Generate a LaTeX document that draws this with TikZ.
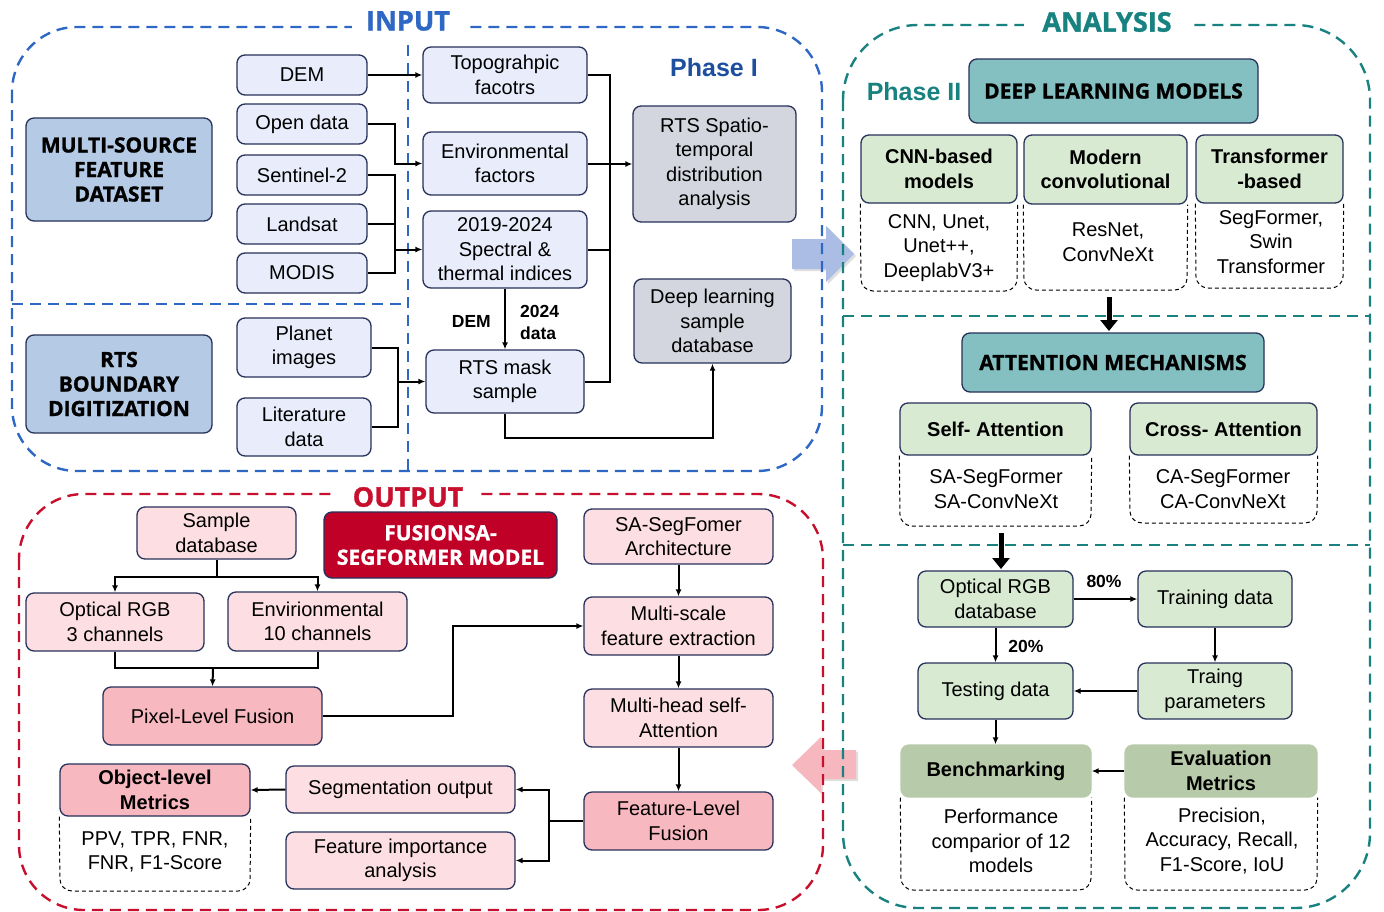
\documentclass[tikz,border=0pt]{standalone}
\usepackage{fontspec}
\setmainfont{Liberation Sans}
\newfontfamily\hdfont{Open Sans}[BoldFeatures={FakeBold=1.2}]
\usetikzlibrary{arrows.meta,shadows}
\definecolor{navy}{HTML}{27315A}
\definecolor{inblue}{HTML}{2E68C4}
\definecolor{phblue}{HTML}{1E4E9E}
\definecolor{tealc}{HTML}{17827F}
\definecolor{redc}{HTML}{C8102E}
\definecolor{infill}{HTML}{E9EDFB}
\definecolor{msfill}{HTML}{B5CBE5}
\definecolor{grfill}{HTML}{D3D6DE}
\definecolor{tlfill}{HTML}{84BFC1}
\definecolor{gnfill}{HTML}{D8EAD1}
\definecolor{sgfill}{HTML}{B7CAA9}
\definecolor{pkfill}{HTML}{FDDFE3}
\definecolor{pdfill}{HTML}{F8B8C0}
\definecolor{drfill}{HTML}{C00027}
\definecolor{arblue}{HTML}{ABBDE4}
\definecolor{arpink}{HTML}{F7B7BE}
\newcommand\bodyf{\fontsize{20}{24.5}\selectfont}
\newcommand\hdf{\hdfont\bfseries\fontsize{21}{24.5}\selectfont}
\newcommand\bx[7]{\node[#1,minimum width={#4-#3},minimum height={#6-#5}] (#2) at ({(#3+#4)/2},{(#5+#6)/2}) {#7};}
\begin{document}
\begin{tikzpicture}[x=1pt,y=-1pt,
  box/.style={rounded corners=8pt, draw=navy, line width=1.3pt, align=center, inner sep=0pt, font=\bodyf},
  inb/.style={box, fill=infill},
  msb/.style={box, fill=msfill, font=\hdf},
  grb/.style={box, fill=grfill},
  tlb/.style={box, fill=tlfill, font=\hdf},
  gnb/.style={box, fill=gnfill},
  gnh/.style={box, fill=gnfill, font=\bfseries\bodyf},
  sgb/.style={box, fill=sgfill, draw=sgfill, font=\bfseries\bodyf},
  pkb/.style={box, fill=pkfill},
  pdb/.style={box, fill=pdfill},
  pdh/.style={box, fill=pdfill, font=\bfseries\bodyf},
  fus/.style={box, fill=drfill, text=white, font=\hdf},
  txt/.style={align=center, inner sep=0pt, font=\bodyf},
  lbl/.style={inner sep=0pt, align=left, font=\bfseries\fontsize{17.5}{22}\selectfont},
  line/.style={line width=2pt},
  conn/.style={line width=2pt, -{Latex[length=7pt,width=6pt]}},
  thickarr/.style={line width=5pt, -{Triangle[length=11pt,width=17pt]}},
  dsh/.style={draw=black, dash pattern=on 4pt off 3pt, line width=1pt, rounded corners=12pt},
  regline/.style={line width=2.4pt, dash pattern=on 11pt off 7pt},
  ttl/.style={fill=white, inner xsep=18pt, inner ysep=2pt, font=\hdfont\bfseries\fontsize{27}{30}\selectfont},
  phase/.style={inner sep=0pt, font=\bfseries\fontsize{25}{28}\selectfont}
]
\useasboundingbox (0,0) rectangle (1384,911);
\fill[white] (0,0) rectangle (1384,911);

% block arrows
\fill[arblue, drop shadow={opacity=0.25, shadow xshift=2pt, shadow yshift=-2pt}]
  (792,239) -- (826,239) -- (826,226) -- (854,254) -- (826,282) -- (826,269) -- (792,269) -- cycle;
\fill[arpink, drop shadow={opacity=0.25, shadow xshift=2pt, shadow yshift=-2pt}]
  (856,750) -- (821,750) -- (821,737) -- (792,765) -- (821,793) -- (821,779) -- (856,779) -- cycle;

% regions
\draw[regline, inblue, rounded corners=65pt] (12,27) rectangle (822,471);
\draw[regline, inblue] (408,45) -- (408,471);
\draw[regline, inblue] (12,304) -- (408,304);
\node[ttl, text=inblue, inner xsep=14pt] (tin) at (408,21) {INPUT};
\node[phase, text=phblue] (ph1) at (714,68) {Phase I};

\draw[regline, tealc, rounded corners=75pt] (843,25) rectangle (1370,908);
\draw[regline, tealc] (843,316) -- (1370,316);
\draw[regline, tealc] (843,545) -- (1370,545);
\node[ttl, text=tealc] (tan) at (1107,22) {ANALYSIS};
\node[phase, text=tealc] (ph2) at (914,92) {Phase II};

\draw[regline, redc, rounded corners=65pt] (19,494) rectangle (823,910);
\node[ttl, text=redc] (tout) at (408,497) {OUTPUT};

% ---------- INPUT ----------
\bx{msb}{ms}{26}{212}{118}{221}{MULTI-SOURCE\\FEATURE\\DATASET}
\bx{msb}{rtsb}{26}{212}{335}{433}{RTS\\BOUNDARY\\DIGITIZATION}
\bx{inb}{dem}{237}{367}{55}{95}{DEM}
\bx{inb}{open}{237}{367}{104}{144}{Open data}
\bx{inb}{sent}{237}{367}{155}{195}{Sentinel-2}
\bx{inb}{land}{237}{367}{204}{244}{Landsat}
\bx{inb}{modis}{237}{367}{253}{293}{MODIS}
\bx{inb}{planet}{237}{371}{318}{377}{Planet\\images}
\bx{inb}{lit}{237}{371}{398}{456}{Literature\\data}
\bx{inb}{topo}{423}{587}{47}{103}{Topograhpic\\facotrs}
\bx{inb}{env}{423}{587}{132}{195}{Environmental\\factors}
\bx{inb}{spec}{423}{587}{211}{288}{2019-2024\\Spectral \&\\thermal indices}
\bx{inb}{mask}{426}{584}{350}{413}{RTS mask\\sample}
\bx{grb}{spatio}{633}{796}{106}{222}{RTS Spatio-\\temporal\\distribution\\analysis}
\bx{grb}{dldb}{634}{791}{279}{363}{Deep learning\\sample\\database}

\coordinate (bA) at (395,0);
\coordinate (bB) at (610,0);
\coordinate (bC) at (398,0);
\draw[conn] (dem.east) -- (topo.west |- dem.east);
\draw[conn] (open.east) -- (open.east -| bA) |- (env.west);
\draw[line] (sent.east) -| (bA |- modis.east) -- (modis.east);
\draw[line] (land.east) -- (bA |- land.east);
\draw[conn] (bA |- spec.west) -- (spec.west);
\draw[line] (topo.east) -| (bB |- mask.east) -- (mask.east);
\draw[line] (env.east) -- (bB |- env.east);
\draw[line] (spec.east) -- (bB |- spec.east);
\draw[conn] (bB |- spatio.west) -- (spatio.west);
\draw[conn] (spec.south) -- (mask.north);
\node[lbl, anchor=east] (ldem) at (491,321) {DEM};
\node[lbl, anchor=west] (l2024) at (520,322) {2024\\data};
\draw[line] (planet.east) -| (bC |- lit.east) -- (lit.east);
\draw[conn] (bC |- mask.west) -- (mask.west);
\draw[conn] (mask.south) -- ++(0,24) -| (dldb.south);

% ---------- ANALYSIS ----------
\bx{tlb}{dlm}{969}{1258}{59}{123}{DEEP LEARNING MODELS}
\node[txt] (cnnl) at (939,248) {CNN, Unet,\\Unet++,\\DeeplabV3+};
\node[txt] (modl) at (1108,242) {ResNet,\\ConvNeXt};
\node[txt] (trl) at (1271,242) {SegFormer,\\Swin\\Transformer};
\bx{gnh}{cnn}{861}{1017}{135}{203}{CNN-based\\models}
\bx{gnh}{modern}{1024}{1187}{135}{204}{Modern\\convolutional}
\bx{gnh}{trans}{1196}{1343}{135}{203}{Transformer\\-based}
\draw[dsh] (cnn.south west) -- (861,291) -- (1017,291) -- (cnn.south east);
\draw[dsh] (modern.south west) -- (1024,290) -- (1187,290) -- (modern.south east);
\draw[dsh] (trans.south west) -- (1196,288) -- (1343,288) -- (trans.south east);

\bx{tlb}{att}{962}{1264}{333}{392}{ATTENTION MECHANISMS}
\coordinate (t1a) at (1109,297);
\coordinate (t1b) at (1109,331);
\draw[thickarr] (t1a) -- (t1b);
\bx{gnh}{selfa}{900}{1091}{403}{455}{Self- Attention}
\bx{gnh}{crossa}{1130}{1317}{403}{455}{Cross- Attention}
\node[txt] (sal) at (996,489) {SA-SegFormer\\SA-ConvNeXt};
\node[txt] (cal) at (1223,489) {CA-SegFormer\\CA-ConvNeXt};
\draw[dsh] (selfa.south west) -- (900,526) -- (1091,526) -- (selfa.south east);
\draw[dsh] (crossa.south west) -- (1130,523) -- (1317,523) -- (crossa.south east);

\coordinate (t2a) at (1001,533);
\coordinate (t2b) at (1001,569);
\draw[thickarr] (t2a) -- (t2b);
\bx{gnb}{opt}{918}{1073}{571}{627}{Optical RGB\\database}
\bx{gnb}{trn}{1138}{1292}{571}{627}{Training data}
\bx{gnb}{tst}{918}{1073}{663}{719}{Testing data}
\bx{gnb}{tpr}{1138}{1292}{663}{719}{Traing\\parameters}
\draw[conn] (opt.east) -- (trn.west);
\node[lbl] (l80) at (1104,581) {80\%};
\draw[conn] (opt.south) -- (tst.north);
\node[lbl] (l20) at (1026,646) {20\%};
\draw[conn] (trn.south) -- (tpr.north);
\draw[conn] (tpr.west) -- (tst.east);

\node[txt] (benl) at (1001,841) {Performance\\comparior of 12\\models};
\node[txt] (evl) at (1222,841) {Precision,\\Accuracy, Recall,\\F1-Score, IoU};
\bx{sgb}{bench}{901}{1091}{745}{797}{Benchmarking}
\bx{sgb}{evalm}{1125}{1317}{745}{797}{Evaluation\\Metrics}
\draw[dsh] (bench.south west) -- (901,890) -- (1091,890) -- (bench.south east);
\draw[dsh] (evalm.south west) -- (1125,890) -- (1317,890) -- (evalm.south east);
\draw[conn] (tst.south) -- (tst.south |- bench.north);
\draw[conn] (evalm.west) -- (bench.east);

% ---------- OUTPUT ----------
\bx{pkb}{sdb}{137}{296}{507}{559}{Sample\\database}
\bx{fus}{fusm}{324}{557}{512}{578}{FUSIONSA-\\SEGFORMER MODEL}
\bx{pkb}{saseg}{584}{773}{509}{564}{SA-SegFomer\\Architecture}
\bx{pkb}{orgb}{26}{204}{593}{651}{Optical RGB\\3 channels}
\bx{pkb}{envc}{228}{407}{592}{651}{Envirionmental\\10 channels}
\bx{pdb}{pix}{103}{322}{687}{745}{Pixel-Level Fusion}
\bx{pkb}{msc}{584}{773}{597}{655}{Multi-scale\\feature extraction}
\bx{pkb}{mhs}{584}{773}{689}{747}{Multi-head self-\\Attention}
\bx{pdb}{flf}{584}{773}{792}{850}{Feature-Level\\Fusion}
\bx{pkb}{seg}{286}{515}{766}{813}{Segmentation output}
\bx{pkb}{fia}{286}{515}{832}{889}{Feature importance\\analysis}
\node[txt] (objl) at (155,852) {PPV, TPR, FNR,\\FNR, F1-Score};
\bx{pdh}{obj}{60}{250}{764}{816}{Object-level\\Metrics}
\draw[dsh] (obj.south west) -- (60,891) -- (250,891) -- (obj.south east);

\coordinate (jn) at (213,668);
\draw[conn] (sdb.south) -- ++(0,17) -| (orgb.north);
\draw[conn] (sdb.south) ++(0,17) -| (envc.north);
\draw[line] (orgb.south) |- (jn) -| (envc.south);
\draw[conn] (jn) -- (pix.north);
\draw[conn] (pix.east) -- ++(130,0) |- (msc.west);
\draw[conn] (saseg.south) -- (msc.north);
\draw[conn] (msc.south) -- (mhs.north);
\draw[conn] (mhs.south) -- (flf.north);
\draw[conn] (flf.west) -- ++(-34,0) |- (seg.east);
\draw[conn] (flf.west) ++(-34,0) |- (fia.east);
\draw[conn] (seg.west) -- (obj.east);
\end{tikzpicture}
\end{document}
